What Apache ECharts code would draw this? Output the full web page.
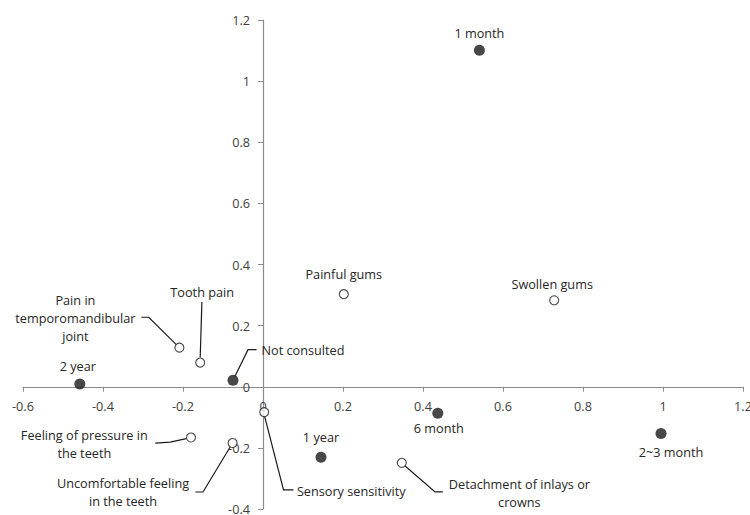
<!DOCTYPE html>
<html><head><meta charset="utf-8">
<script src="https://cdn.jsdelivr.net/npm/echarts@6/dist/echarts.min.js"></script>
<style>html,body{margin:0;padding:0;background:#fff}#c{width:750px;height:515px}</style>
</head><body><div id="c"></div>
<script>
// ---- data ----
const filledNames = ['1 month', '2~3 month', '6 month', '1 year', '2 year', 'Not consulted'];
const filledX = [0.541, 0.995, 0.437, 0.145, -0.458, -0.075];
const filledY = [1.101, -0.153, -0.087, -0.231, 0.009, 0.021];

const openNames = ['Painful gums', 'Swollen gums', 'Tooth pain', 'Pain in\ntemporomandibular\njoint',
  'Feeling of pressure in\nthe teeth', 'Uncomfortable feeling\nin the teeth', 'Sensory sensitivity',
  'Detachment of inlays or\ncrowns'];
const openX = [0.202, 0.728, -0.157, -0.209, -0.180, -0.076, 0.003, 0.347];
const openY = [0.303, 0.283, 0.079, 0.128, -0.166, -0.184, -0.083, -0.249];

const xMin = -0.6, xMax = 1.2, xStep = 0.2;
const yMin = -0.4, yMax = 1.2, yStep = 0.2;

// ---- label placement (pixel offsets from the marker) ----
const labelLayout = {
  '1 month': { dx: 0, dy: -17, align: 'center' },
  '2~3 month': { dx: 10, dy: 18, align: 'center' },
  '6 month': { dx: 1, dy: 15, align: 'center' },
  '1 year': { dx: 0, dy: -20, align: 'center' },
  '2 year': { dx: -2, dy: -18, align: 'center' },
  'Not consulted': { dx: 28.5, dy: -30.5, align: 'left', line: [[2, -4], [15, -30.7], [23.5, -30.7]] },
  'Painful gums': { dx: 0, dy: -20, align: 'center' },
  'Swollen gums': { dx: -2, dy: -16, align: 'center' },
  'Tooth pain': { dx: 2, dy: -71, align: 'center', line: [[0, -5], [1.7, -60.5]] },
  'Pain in\ntemporomandibular\njoint': { dx: -104, dy: -29.4, align: 'center', line: [[-3.3, -3.3], [-30.7, -30.4], [-38, -30.4]] },
  'Feeling of pressure in\nthe teeth': { dx: -106.7, dy: 6.1, align: 'center', line: [[-4.7, 1.2], [-20.7, 4.6], [-35.7, 5.6]] },
  'Uncomfortable feeling\nin the teeth': { dx: -109.6, dy: 49.5, align: 'center', line: [[-2.3, 3.7], [-29.6, 49], [-37.3, 49]] },
  'Sensory sensitivity': { dx: 32.7, dy: 78.4, align: 'left', line: [[0.5, 4.5], [19.3, 77.7], [29.3, 77.7]] },
  'Detachment of inlays or\ncrowns': { dx: 117.6, dy: 30.2, align: 'center', line: [[3.3, 3.2], [33.3, 29], [41, 29]] }
};

const FONT = '"Open Sans", "Liberation Sans", sans-serif';
const FS = 12.7;
const AXIS_COLOR = '#8c8c8c';

const filledData = filledX.map((x, i) => [x, filledY[i], filledNames[i]]);
const openData = openX.map((x, i) => [x, openY[i], openNames[i]]);
const allData = filledData.concat(openData);

const chart = echarts.init(document.getElementById('c'), null, { renderer: 'svg' });

function renderLabel(params, api) {
  const item = allData[params.dataIndex];
  const p = api.coord([item[0], item[1]]);
  const L = labelLayout[item[2]];
  const children = [];
  if (L.line) {
    children.push({
      type: 'polyline',
      shape: { points: L.line.map(o => [p[0] + o[0], p[1] + o[1]]) },
      style: { stroke: '#1a1a1a', lineWidth: 1.2, fill: null }
    });
  }
  children.push({
    type: 'text',
    style: {
      text: item[2], x: p[0] + L.dx, y: p[1] + L.dy,
      align: L.align, verticalAlign: 'middle',
      fontFamily: FONT, fontSize: FS, lineHeight: 18, fill: '#262626'
    }
  });
  return { type: 'group', children: children };
}

const axisCommon = {
  type: 'value',
  axisLine: { show: true, onZero: false, lineStyle: { color: AXIS_COLOR, width: 1.2 } },
  axisTick: { show: true, length: 5, lineStyle: { color: AXIS_COLOR } },
  axisLabel: { margin: 13, color: '#404040', fontSize: FS, fontFamily: FONT, showMinLabel: true, showMaxLabel: true },
  splitLine: { show: false }
};

chart.setOption({
  animation: false,
  backgroundColor: '#fff',
  grid: { left: 23, right: 7, top: 20, bottom: 6, containLabel: false, outerBoundsMode: 'none' },
  xAxis: Object.assign({}, axisCommon, { min: xMin, max: xMax, interval: xStep, position: 'bottom', offset: 0 }),
  yAxis: Object.assign({}, axisCommon, { min: yMin, max: yMax, interval: yStep, position: 'left', offset: 0 }),
  series: [
    {
      type: 'custom', name: 'labels', data: allData, renderItem: renderLabel,
      clip: false, silent: true, z: 1
    },
    {
      type: 'scatter', name: 'filled', data: filledData, symbol: 'circle', symbolSize: 11,
      itemStyle: { color: '#1a1a1a' }, z: 3
    },
    {
      type: 'scatter', name: 'open', data: openData, symbol: 'circle', symbolSize: 9,
      itemStyle: { color: '#ffffff', borderColor: '#1a1a1a', borderWidth: 1.1 }, z: 3
    }
  ]
});

// move both axes (line, ticks and labels) so they cross at zero, as in the reference
const zeroY = chart.convertToPixel({ yAxisIndex: 0 }, 0);
const bottomY = chart.convertToPixel({ yAxisIndex: 0 }, yMin);
const zeroX = chart.convertToPixel({ xAxisIndex: 0 }, 0);
const leftX = chart.convertToPixel({ xAxisIndex: 0 }, xMin);
chart.setOption({
  xAxis: { offset: zeroY - bottomY },
  yAxis: { offset: leftX - zeroX }
});
</script>
</body></html>
